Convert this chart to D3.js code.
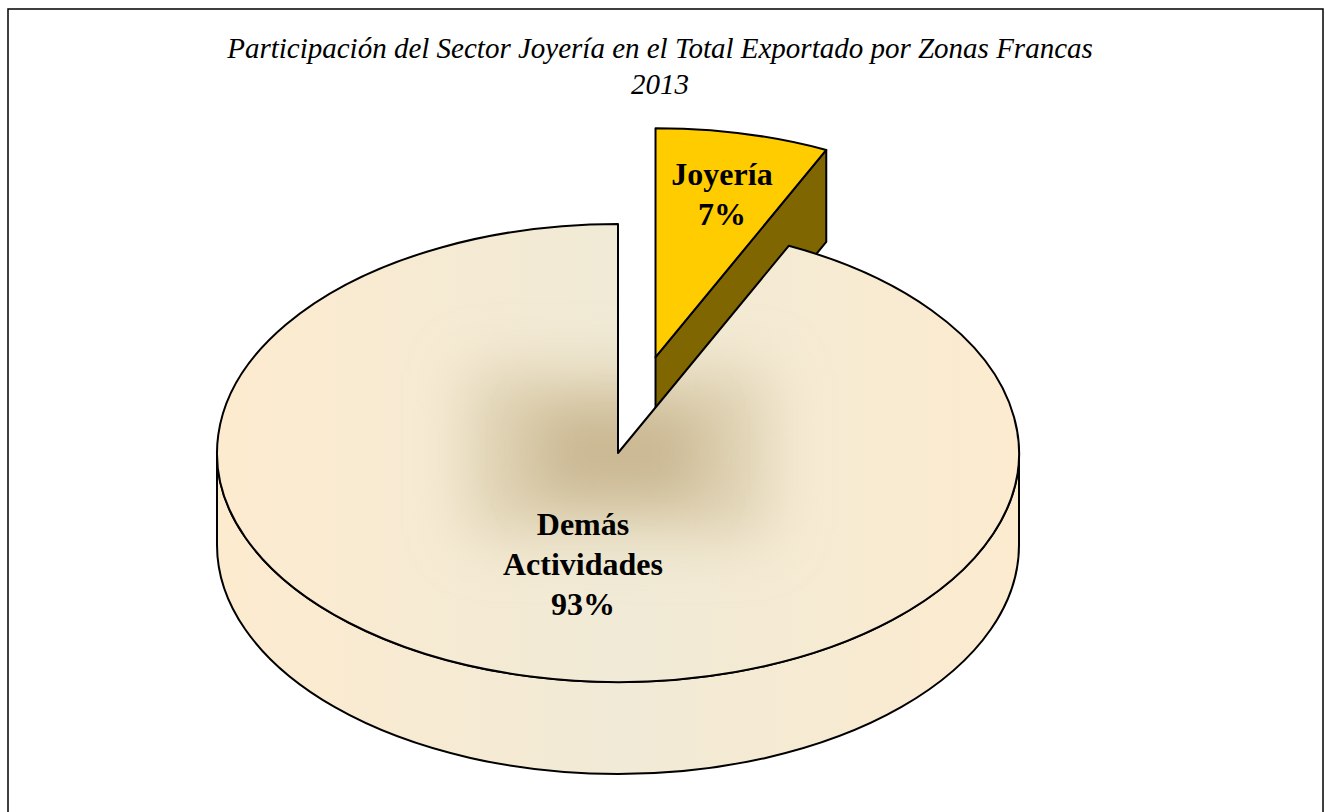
<!DOCTYPE html>
<html lang="es">
<head>
<meta charset="UTF-8">
<title>Joyería 2013</title>
<style>
    body { margin: 0; background: #fff; }
    svg { display: block; }
    .title { font-family: "Liberation Serif", "Times New Roman", serif; font-style: italic; font-size: 29px; fill: #000; }
    .lbl { font-family: "Liberation Serif", "Times New Roman", serif; font-weight: bold; font-size: 32px; fill: #000; }
    .edge { stroke: #000; stroke-width: 2; stroke-linejoin: round; }
</style>
</head>
<body>
<svg></svg>
<script src="https://d3js.org/d3.v7.min.js"></script>
<script>
    // data
    var categories = ["Joyería", "Demás Actividades"]
    var values = [7, 93]
    var labelLines = [["Joyería", "7%"], ["Demás", "Actividades", "93%"]]
    var titleLines = ["Participación del Sector Joyería en el Total Exportado por Zonas Francas", "2013"]

    var width = 1325, height = 812
    var cx = 618, cy = 453      // centre of the top face
    var rx = 401, ry = 229      // ellipse radii
    var depth = 92              // thickness of the pie
    var explode = [172, 0]      // offset per slice (joyería pulled out)
    var labelR = [0.76, 0.4]
    var labelDy = [18, 33]

    var topColors = ["#FFCC00", "url(#topGrad)"]
    var sideColors = ["#806600", "url(#sideGrad)"]

    var svg = d3.select("svg").attr("width", width).attr("height", height)

    var defs = svg.append("defs")
    var lg = defs.append("linearGradient").attr("id", "topGrad")
        .attr("x1", "0%").attr("x2", "100%").attr("y1", "0%").attr("y2", "0%")
    lg.append("stop").attr("offset", "0%").attr("stop-color", "#FDEBCF")
    lg.append("stop").attr("offset", "50%").attr("stop-color", "#F0EAD6")
    lg.append("stop").attr("offset", "100%").attr("stop-color", "#FCEBCF")
    var sg = defs.append("linearGradient").attr("id", "sideGrad")
        .attr("x1", "0%").attr("x2", "100%").attr("y1", "0%").attr("y2", "0%")
    sg.append("stop").attr("offset", "0%").attr("stop-color", "#FDEBCF")
    sg.append("stop").attr("offset", "50%").attr("stop-color", "#F1EAD6")
    sg.append("stop").attr("offset", "100%").attr("stop-color", "#FCEBCF")
    defs.append("filter").attr("id", "soft").attr("x", "-50%").attr("y", "-50%").attr("width", "200%").attr("height", "200%")
        .append("feGaussianBlur").attr("stdDeviation", 30)
    defs.append("filter").attr("id", "soft2").attr("x", "-50%").attr("y", "-50%").attr("width", "200%").attr("height", "200%")
        .append("feGaussianBlur").attr("stdDeviation", 24)

    // frame
    svg.append("rect").attr("x", 8).attr("y", 9).attr("width", 1315).attr("height", 812)
        .attr("fill", "#fff").attr("stroke", "#000").attr("stroke-width", 1.5)

    // title
    svg.append("text").attr("class", "title").attr("text-anchor", "middle")
        .selectAll("tspan").data(titleLines).enter().append("tspan")
        .attr("x", 660).attr("y", function(d, i){ return 58 + i * 36 })
        .text(function(d){ return d })

    var pie = d3.pie().sort(null)
    var arcs = pie(values)

    function pt(c, a, k) {
        return [c[0] + rx * k * Math.sin(a), c[1] - ry * k * Math.cos(a)]
    }
    function down(p) { return [p[0], p[1] + depth] }

    arcs.forEach(function(d, i){
        var mid = (d.startAngle + d.endAngle) / 2
        var e = explode[i]
        d.c = [cx + e * Math.sin(mid), cy - e * Math.cos(mid) * ry / rx]
        d.mid = mid
    })

    function topPath(d) {
        var p0 = pt(d.c, d.startAngle, 1), p1 = pt(d.c, d.endAngle, 1)
        var large = (d.endAngle - d.startAngle) > Math.PI ? 1 : 0
        return "M" + d.c + "L" + p0 + "A" + rx + "," + ry + " 0 " + large + " 1 " + p1 + "Z"
    }
    // visible outer wall: front half only (pi/2 .. 3pi/2)
    function outerPath(d) {
        var a0 = Math.max(d.startAngle, Math.PI / 2), a1 = Math.min(d.endAngle, 3 * Math.PI / 2)
        if (a1 <= a0) return null
        var am = (a0 + a1) / 2
        var p0 = pt(d.c, a0, 1), pm = pt(d.c, am, 1), p1 = pt(d.c, a1, 1)
        return "M" + p0 + "A" + rx + "," + ry + " 0 0 1 " + pm + "A" + rx + "," + ry + " 0 0 1 " + p1 +
            "L" + down(p1) + "A" + rx + "," + ry + " 0 0 0 " + down(pm) + "A" + rx + "," + ry + " 0 0 0 " + down(p0) + "Z"
    }
    // radial wall at the end angle
    function radialPath(d) {
        var p = pt(d.c, d.endAngle, 1)
        return "M" + d.c + "L" + p + "L" + down(p) + "L" + down(d.c) + "Z"
    }

    var g = svg.append("g")

    // joyería first, the big slice is drawn over it
    var j = arcs[0]
    g.append("path").attr("class", "edge").attr("d", radialPath(j)).attr("fill", sideColors[0])
    g.append("path").attr("class", "edge").attr("d", topPath(j)).attr("fill", topColors[0])

    var b = arcs[1]
    defs.append("clipPath").attr("id", "bigTop").append("path").attr("d", topPath(b))
    g.append("path").attr("class", "edge").attr("d", outerPath(b)).attr("fill", sideColors[1])
    g.append("path").attr("d", topPath(b)).attr("fill", topColors[1])
    // darker soft centre of the gradient fill
    var shade = g.append("g").attr("clip-path", "url(#bigTop)")
    shade.append("rect").attr("x", cx - 145).attr("y", cy - 80).attr("width", 290).attr("height", 160)
        .attr("fill", "#DBCEAD").attr("filter", "url(#soft)")
    shade.append("rect").attr("x", cx - 75).attr("y", cy - 40).attr("width", 150).attr("height", 80)
        .attr("fill", "#CAB893").attr("filter", "url(#soft2)")
    g.append("path").attr("class", "edge").attr("d", topPath(b)).attr("fill", "none")

    // labels
    arcs.forEach(function(d, i){
        var p = pt(d.c, d.mid, labelR[i])
        var lines = labelLines[i]
        var lh = 40
        var y0 = p[1] - (lines.length - 1) * lh / 2 + labelDy[i]
        svg.append("text").attr("class", "lbl").attr("text-anchor", "middle")
            .selectAll("tspan").data(lines).enter().append("tspan")
            .attr("x", p[0]).attr("y", function(t, k){ return y0 + k * lh })
            .text(function(t){ return t })
    })
</script>
</body>
</html>
